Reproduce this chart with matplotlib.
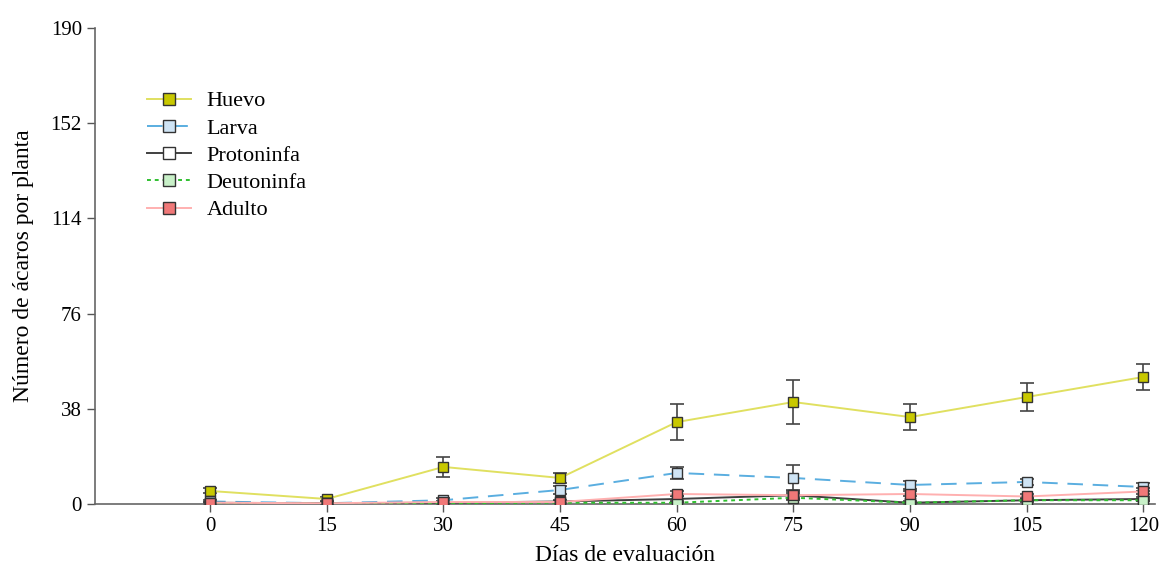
import matplotlib
matplotlib.use("Agg")
import matplotlib.pyplot as plt
from matplotlib.lines import Line2D

plt.rcParams['font.family'] = ['Liberation Serif', 'DejaVu Serif']

dias = [0, 15, 30, 45, 60, 75, 90, 105, 120]
huevo = [5.2, 2.0, 14.8, 10.4, 32.7, 40.7, 34.7, 42.7, 50.7]
huevo_err = [1.0, 0.8, 4.0, 2.0, 7.2, 8.6, 5.2, 5.6, 5.0]
larva = [1.0, 0.3, 1.5, 5.6, 12.4, 10.4, 7.6, 8.8, 6.8]
larva_err = [0.5, 0.3, 0.8, 1.5, 2.4, 5.0, 1.5, 1.2, 1.5]
protoninfa = [0.5, 0.3, 0.5, 1.0, 2.0, 3.5, 0.5, 1.5, 2.0]
protoninfa_err = [0.3, 0.2, 0.3, 0.5, 1.0, 1.5, 0.5, 0.8, 0.8]
deutoninfa = [0.2, 0.2, 0.3, 0.5, 0.5, 2.5, 0.5, 1.5, 1.5]
deutoninfa_err = [0.2, 0.2, 0.2, 0.3, 0.3, 1.0, 0.3, 0.5, 0.5]
adulto = [0.5, 0.3, 0.8, 0.8, 4.0, 3.5, 4.0, 3.0, 5.0]
adulto_err = [0.3, 0.2, 0.4, 0.4, 1.0, 1.0, 1.0, 0.8, 1.2]
yticks = [0, 38, 76, 114, 152, 190]

series = [
    ("Huevo", huevo, huevo_err, "#e0e060", "-", "#c8c800"),
    ("Larva", larva, larva_err, "#5aaee0", (0, (8, 5)), "#cfe4f5"),
    ("Protoninfa", protoninfa, protoninfa_err, "#404040", "-", "white"),
    ("Deutoninfa", deutoninfa, deutoninfa_err, "#30c030", (0, (2, 2)), "#c8f0c8"),
    ("Adulto", adulto, adulto_err, "#ffb0b0", "-", "#f07878"),
]

fig = plt.figure(figsize=(11.7, 5.65), dpi=100)
ax = fig.add_axes([95/1170, 61/565, (1155-95)/1170, (504-28)/565])

handles = []
for name, vals, err, lc, ls, mfc in series:
    ax.errorbar(dias, vals, yerr=err, fmt='none', ecolor='#444444',
                elinewidth=1.2, capsize=5, capthick=1.2, zorder=2)
    ax.plot(dias, vals, color=lc, linestyle=ls, linewidth=1.4, zorder=3)
    ax.plot(dias, vals, linestyle='none', marker='s', markersize=7.5,
            markerfacecolor=mfc, markeredgecolor='#333333',
            markeredgewidth=1.0, zorder=4)
    handles.append(Line2D([0], [0], color=lc, linestyle=ls, linewidth=1.4,
                          marker='s', markersize=8, markerfacecolor=mfc,
                          markeredgecolor='#333333', markeredgewidth=1.0))

ax.set_xlim(-14.8, 121.5)
ax.set_ylim(0, 190)
ax.set_xticks(dias)
ax.set_yticks(yticks)
ax.tick_params(axis='both', labelsize=15, direction='out', length=6,
               color='#555555', width=1)
for s in ['top', 'right']:
    ax.spines[s].set_visible(False)
for s in ['left', 'bottom']:
    ax.spines[s].set_color('#666666')
    ax.spines[s].set_linewidth(1.2)

ax.set_xlabel("Días de evaluación", fontsize=17, labelpad=6)
ax.set_ylabel("Número de ácaros por planta", fontsize=17, labelpad=12)

leg = ax.legend(handles, [s[0] for s in series], loc='upper left',
                bbox_to_anchor=(0.03, 0.91), frameon=False, fontsize=16,
                handlelength=2.0, labelspacing=0.3, handletextpad=0.7)

fig.savefig("out.png", dpi=100)
